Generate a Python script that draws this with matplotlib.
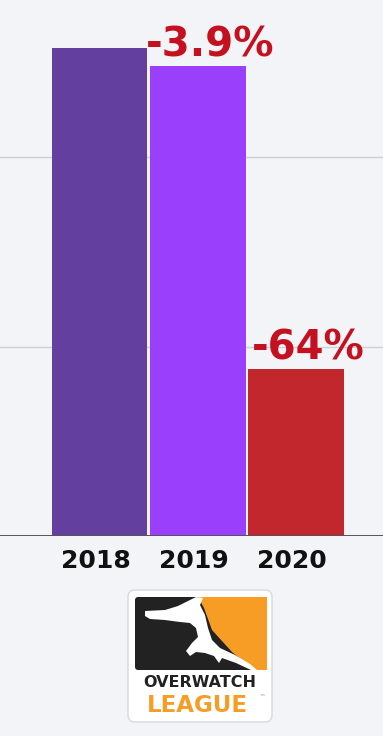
import matplotlib
matplotlib.use("Agg")
import matplotlib.pyplot as plt
import matplotlib.transforms as mtrans
from matplotlib.patches import FancyBboxPatch, Polygon

# ---- data ----
years = ["2018", "2019", "2020"]
values = [2.577, 2.482, 0.881]
changes = ["", "-3.9%", "-64%"]
bar_colors = ["#633fa0", "#9a40fd", "#c1272d"]
grid_levels = [1, 2]

BG = "#f3f4f8"
LABEL_RED = "#c4101f"

fig = plt.figure(figsize=(3.83, 7.36), dpi=100, facecolor=BG)
ax = fig.add_axes([0, 1 - 536 / 736, 1, 536 / 736])
ax.set_facecolor(BG)

x = list(range(len(years)))
bars = ax.bar(x, values, width=0.97, color=bar_colors, zorder=3)

ax.set_xlim(-1.02, 2.888)
ax.set_ylim(0, 2.83)

for g in grid_levels:
    ax.axhline(g, color="#cfd0d6", lw=1.0, zorder=1)
ax.axhline(0, color="#555555", lw=1.4, zorder=4)

for s in ax.spines.values():
    s.set_visible(False)
ax.set_yticks([])
ax.set_xticks(x)
ax.set_xticklabels(years, fontsize=18, fontweight="bold", color="#111111",
                   family="DejaVu Sans")
ax.tick_params(axis="x", length=0, pad=9)
shift = mtrans.ScaledTranslation(-4 / 100, 0, fig.dpi_scale_trans)
for t in ax.get_xticklabels():
    t.set_transform(t.get_transform() + shift)

for b, lab in zip(bars, changes):
    if not lab:
        continue
    ax.annotate(lab, xy=(b.get_x() + b.get_width() / 2, b.get_height()),
                xytext=(9, 7), textcoords="offset points",
                ha="center", va="baseline", fontsize=29, fontweight="bold",
                color=LABEL_RED, family="DejaVu Sans", zorder=5)

# ---- logo (pixel coordinates overlay) ----
lax = fig.add_axes([0, 0, 1, 1], facecolor="none")
lax.set_xlim(0, 383)
lax.set_ylim(736, 0)
lax.axis("off")

lax.add_patch(FancyBboxPatch((128, 590), 144, 132,
                             boxstyle="round,pad=0,rounding_size=7",
                             fc="white", ec="#d8d8dc", lw=1.0))
# black and orange field
lax.add_patch(FancyBboxPatch((135, 597), 132, 73,
                             boxstyle="round,pad=0,rounding_size=3",
                             fc="#222222", ec="none"))
lax.add_patch(Polygon([(198, 597), (267, 597), (267, 670), (254, 670),
                       (232, 652), (212, 630), (204, 608)],
                      closed=True, fc="#f79d26", ec="none"))
# white silhouette (simplified runner)
runner = [(145, 611), (165, 610), (178, 606), (186, 602), (196, 597),
          (203, 598), (200, 605), (205, 615), (208, 628), (212, 640),
          (220, 648), (235, 655), (250, 664), (257, 670), (251, 670),
          (236, 663), (222, 658), (219, 663), (214, 656), (205, 653),
          (196, 652), (190, 656), (186, 651), (192, 643), (198, 637),
          (196, 628), (190, 623), (180, 622), (165, 620), (150, 619),
          (145, 616)]
lax.add_patch(Polygon(runner, closed=True, fc="white", ec="none"))
lax.text(200, 687, "OVERWATCH", ha="center", va="baseline", fontsize=11.5,
         fontweight="bold", color="#222222", family="DejaVu Sans")
lax.text(197, 712, "LEAGUE", ha="center", va="baseline", fontsize=16.5,
         fontweight="heavy", color="#f79d26", family="DejaVu Sans")
lax.text(262, 697, "™", ha="center", va="center", fontsize=4,
         color="#888888", family="DejaVu Sans")

fig.savefig("out.png", dpi=100, facecolor=BG)
